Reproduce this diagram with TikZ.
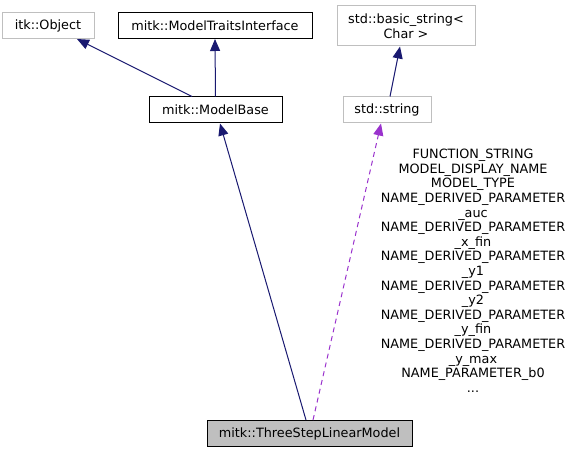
\documentclass[tikz,border=0pt]{standalone}
\usepackage{fontspec}
\setmainfont{DejaVu Sans}
\usetikzlibrary{arrows.meta}
\definecolor{edgeblue}{HTML}{191970}
\definecolor{edgepurple}{HTML}{9A32CD}
\definecolor{boxgray}{HTML}{BFBFBF}
\tikzset{
  cls/.style={draw=black, line width=1pt, minimum height=26pt, inner xsep=5pt, inner ysep=0pt, font=\fontsize{12.8}{14.6}\selectfont, align=center},
  ext/.style={cls, draw=boxgray},
  cur/.style={cls, fill=boxgray},
  inh/.style={draw=edgeblue, line width=1pt, -{Triangle[length=12pt,width=10pt]}},
  use/.style={draw=edgepurple, line width=1pt, dash pattern=on 5pt off 4pt, -{Triangle[length=12pt,width=10pt]}},
  lbl/.style={font=\fontsize{12.8}{14.6}\selectfont, align=center, inner sep=0pt, text=black}
}
\begin{document}
\begin{tikzpicture}[x=1pt,y=-1pt]
\useasboundingbox (0,0) rectangle (574,452);
\node[ext, minimum width=92pt] (itk) at (48,25.5) {itk::Object};
\node[cls, minimum width=194pt] (mti) at (215,25.5) {mitk::ModelTraitsInterface};
\node[cls, minimum width=133pt] (mb) at (215.5,110) {mitk::ModelBase};
\node[ext, minimum width=138pt, minimum height=40pt] (bs) at (406,26) {std::basic\_string<\\Char >};
\node[ext, minimum width=88pt] (str) at (387,110) {std::string};
\node[cur, minimum width=205pt] (tsl) at (309.5,433.5) {mitk::ThreeStepLinearModel};
\node[lbl, anchor=north] (lab) at (473,149) {FUNCTION\_STRING\\MODEL\_DISPLAY\_NAME\\MODEL\_TYPE\\NAME\_DERIVED\_PARAMETER\\\_auc\\NAME\_DERIVED\_PARAMETER\\\_x\_fin\\NAME\_DERIVED\_PARAMETER\\\_y1\\NAME\_DERIVED\_PARAMETER\\\_y2\\NAME\_DERIVED\_PARAMETER\\\_y\_fin\\NAME\_DERIVED\_PARAMETER\\\_y\_max\\NAME\_PARAMETER\_b0\\...};
\draw[inh] ([xshift=-23.5pt]mb.north) -- ([xshift=29pt]itk.south);
\draw[inh] (mb.north) -- (mti.south);
\draw[inh] ([xshift=-3.5pt]tsl.north) -- ([xshift=4.5pt]mb.south);
\draw[use] ([xshift=3.5pt]tsl.north) -- ([xshift=-6pt]str.south);
\draw[inh] ([xshift=3pt]str.north) -- ([xshift=-6pt]bs.south);
\end{tikzpicture}
\end{document}
